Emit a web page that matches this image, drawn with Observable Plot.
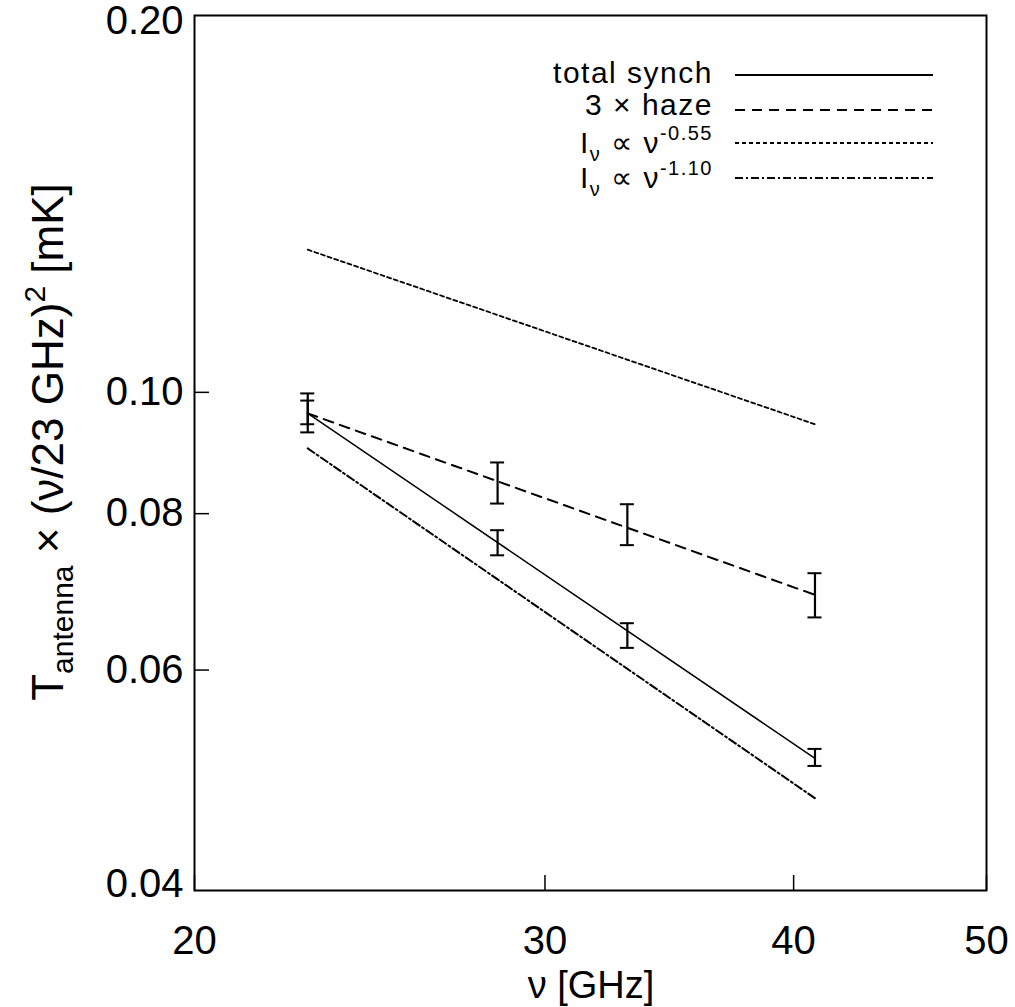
<!DOCTYPE html>
<html><head><meta charset="utf-8">
<script src="https://cdn.jsdelivr.net/npm/d3@7"></script>
<script src="https://cdn.jsdelivr.net/npm/@observablehq/plot@0.6"></script>
<style>html,body{margin:0;padding:0;background:#fff}svg{display:block}</style>
</head><body><div id="chart"></div>
<script>
// ---- data ----
const freqs    = [22.8, 28.4, 33.0, 41.0];          // GHz
const synch    = [0.0962, 0.0757, 0.0639, 0.0510];  // total synch
const synchLo  = [0.0943, 0.0741, 0.0625, 0.0503];
const synchHi  = [0.0985, 0.0776, 0.0654, 0.0519];
const haze     = [0.0962, 0.0847, 0.0787, 0.0689];  // 3 x haze
const hazeLo   = [0.0929, 0.0815, 0.0755, 0.0661];
const hazeHi   = [0.0998, 0.0879, 0.0814, 0.0717];
// fitted / reference power laws (end points)
const fitFreq  = [22.8, 41.0];
const synchFit = [0.0962, 0.0510];
const hazeFit  = [0.0962, 0.0689];
const pl055    = [0.1300, 0.0943];
const pl110    = [0.0902, 0.0474];
const xTicks   = [20, 30, 40, 50];
const yTicks   = [0.06, 0.08, 0.10];
const yTopTick = [0.20];
const yBotTick = [0.04];

const font = "'Liberation Sans', Arial, Helvetica, sans-serif";
const pts = freqs.map((f, i) => ({f, synch: synch[i], sLo: synchLo[i], sHi: synchHi[i], haze: haze[i], hLo: hazeLo[i], hHi: hazeHi[i]}));
const fitRows = (arr) => fitFreq.map((f, i) => ({f, v: arr[i]}));

const capStyle = {stroke: "#000", strokeWidth: 2, insetLeft: -7, insetRight: -7};
const dotted = "4,3", dashed = "10,7", dashdot = "8,3,2,3";
const fmt = d3.format(".2f");

const plot = Plot.plot({
  width: 1015, height: 1007,
  marginLeft: 194, marginRight: 29, marginTop: 15, marginBottom: 117,
  style: {fontFamily: font, background: "#fff", color: "#000", overflow: "visible"},
  x: {type: "log", domain: [20, 50]},
  y: {type: "log", domain: [0.04, 0.2]},
  marks: [
    Plot.axisX({ticks: xTicks, tickFormat: d => String(d), tickSize: -15, tickPadding: 50, fontSize: 40, label: null, strokeWidth: 1.5}),
    Plot.axisY({ticks: yTicks, tickFormat: fmt, tickSize: -15, tickPadding: 26, fontSize: 40, label: null, strokeWidth: 1.5}),
    Plot.axisY({ticks: yTopTick, tickFormat: fmt, tickSize: 0, tickPadding: 11, fontSize: 40, label: null, dy: 6}),
    Plot.axisY({ticks: yBotTick, tickFormat: fmt, tickSize: 0, tickPadding: 11, fontSize: 40, label: null, dy: -6}),
    Plot.line(fitRows(synchFit), {x: "f", y: "v", stroke: "#000", strokeWidth: 1.5}),
    Plot.line(fitRows(hazeFit), {x: "f", y: "v", stroke: "#000", strokeWidth: 2, strokeDasharray: dashed}),
    Plot.line(fitRows(pl055), {x: "f", y: "v", stroke: "#000", strokeWidth: 1.8, strokeDasharray: dotted}),
    Plot.line(fitRows(pl110), {x: "f", y: "v", stroke: "#000", strokeWidth: 2, strokeDasharray: dashdot}),
    // error bars
    Plot.ruleX(pts, {x: "f", y1: "sLo", y2: "sHi", stroke: "#000", strokeWidth: 2.2}),
    Plot.ruleX(pts, {x: "f", y1: "hLo", y2: "hHi", stroke: "#000", strokeWidth: 2.2}),
    Plot.ruleY(pts, {x1: "f", x2: "f", y: "sLo", ...capStyle}),
    Plot.ruleY(pts, {x1: "f", x2: "f", y: "sHi", ...capStyle}),
    Plot.ruleY(pts, {x1: "f", x2: "f", y: "hLo", ...capStyle}),
    Plot.ruleY(pts, {x1: "f", x2: "f", y: "hHi", ...capStyle}),
    Plot.frame({stroke: "#000", strokeWidth: 2})
  ]
});
document.getElementById("chart").appendChild(plot);

const svg = d3.select(plot);
// y-axis label
const yl = svg.append("text")
  .attr("transform", "translate(63,442) rotate(-90)")
  .attr("text-anchor", "middle").attr("font-family", font).attr("font-size", 44).attr("fill", "#000");
yl.append("tspan").text("T");
yl.append("tspan").attr("font-size", 30).attr("dy", 10).text("antenna");
yl.append("tspan").attr("dy", -10).text(" \u00d7 (\u03bd/23 GHz)");
yl.append("tspan").attr("font-size", 30).attr("dy", -18).text("2");
yl.append("tspan").attr("dy", 18).text(" [mK]");
// x-axis label
svg.append("text").attr("x", 591).attr("y", 998).attr("text-anchor", "middle")
  .attr("font-family", font).attr("font-size", 38).attr("fill", "#000").text("\u03bd [GHz]");

// legend
const legend = [
  {y: 83, line: 75, dash: null, parts: [["total synch"]]},
  {y: 115, line: 110, dash: dashed, parts: [["3 \u00d7 haze"]]},
  {y: 153, line: 143, dash: dotted, parts: [["I"], ["\u03bd", "sub"], [" \u221d \u03bd"], ["-0.55", "sup"]]},
  {y: 188, line: 178, dash: dashdot, parts: [["I"], ["\u03bd", "sub"], [" \u221d \u03bd"], ["-1.10", "sup"]]}
];
legend.forEach(e => {
  const t = svg.append("text").attr("x", 713).attr("y", e.y).attr("text-anchor", "end")
    .attr("font-family", font).attr("font-size", 30).attr("letter-spacing", 1.5).attr("fill", "#000");
  let cur = 0;
  e.parts.forEach(([s, k]) => {
    const target = k === "sub" ? 8 : k === "sup" ? -13 : 0;
    const ts = t.append("tspan").attr("dy", target - cur).text(s);
    if (k) ts.attr("font-size", 20);
    cur = target;
  });
  svg.append("line").attr("x1", 735).attr("x2", 933).attr("y1", e.line).attr("y2", e.line)
    .attr("stroke", "#000").attr("stroke-width", 2).attr("stroke-dasharray", e.dash);
});
</script>
</body></html>
